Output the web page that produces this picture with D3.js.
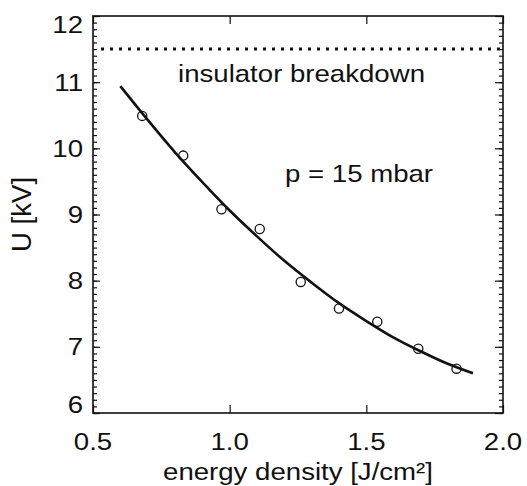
<!DOCTYPE html>
<html>
<head>
<meta charset="utf-8">
<script src="https://cdn.jsdelivr.net/npm/d3@7"></script>
<style>
  html, body { margin: 0; padding: 0; background: #fff; }
  svg { display: block; font-family: "Liberation Sans", Arial, sans-serif; }
</style>
</head>
<body>
<svg id="chart" width="527" height="486"></svg>
<script>
// 量測點 (energy density, U)
const pointX = [0.68, 0.83, 0.97, 1.11, 1.26, 1.40, 1.54, 1.69, 1.83];
const pointU = [10.49, 9.89, 9.08, 8.78, 7.98, 7.58, 7.38, 6.97, 6.67];

// 擬合曲線
const fitX = [0.60, 0.70, 0.80, 0.90, 1.00, 1.10, 1.20, 1.30, 1.40, 1.50, 1.60, 1.70, 1.80, 1.89];
const fitU = [10.94, 10.43, 9.94, 9.49, 9.06, 8.67, 8.30, 7.97, 7.66, 7.39, 7.14, 6.93, 6.74, 6.60];

// 絕緣體崩潰電壓
const breakdownU = 11.5;

// 軸刻度
const xTicks = [0.5, 1.0, 1.5, 2.0];
const xTickLabels = ["0.5", "1.0", "1.5", "2.0"];
const yTicks = [6, 7, 8, 9, 10, 11, 12];
const yTickLabels = ["6", "7", "8", "9", "10", "11", "12"];

const xDomain = [0.5, 2.0];
const yDomain = [6, 12];

// 版面
const W = 527, H = 486;
const margin = { left: 93, top: 16, right: 24, bottom: 73 };
const FONT = 24;
const STRETCH = 1.15; // 原圖字體較寬
const CAP = 0.716 * FONT;

const svg = d3.select('#chart');

const x = d3.scaleLinear().domain(xDomain).range([margin.left, W - margin.right]);
const y = d3.scaleLinear().domain(yDomain).range([H - margin.bottom, margin.top]);

const plotLeft = x.range()[0], plotRight = x.range()[1];
const plotTop = y.range()[1], plotBottom = y.range()[0];

//文字 (水平拉寬)
function addText(px, py, str, anchor, size) {
  return svg.append('text')
    .attr('transform', `translate(${px},${py}) scale(${STRETCH},1)`)
    .attr('text-anchor', anchor)
    .style('font-size', (size || FONT) + 'px')
    .style('fill', '#111')
    .text(str);
}

// 次刻度
const yMinor = d3.range(yDomain[0], yDomain[1] + 0.001, 0.1);

//刻度 (朝內)
svg.append('g')
  .attr('transform', `translate(${plotLeft},0)`)
  .call(d3.axisLeft(y).tickValues(yMinor).tickSize(-4).tickFormat(''));
svg.append('g')
  .attr('transform', `translate(${plotLeft},0)`)
  .call(d3.axisLeft(y).tickValues(yTicks).tickSize(-7).tickFormat(''));
svg.append('g')
  .attr('transform', `translate(${plotRight},0)`)
  .call(d3.axisRight(y).tickValues(yMinor).tickSize(-4).tickFormat(''));
svg.append('g')
  .attr('transform', `translate(${plotRight},0)`)
  .call(d3.axisRight(y).tickValues(yTicks).tickSize(-8).tickFormat(''));
svg.append('g')
  .attr('transform', `translate(0,${plotBottom})`)
  .call(d3.axisBottom(x).tickValues(xTicks).tickSize(-8).tickFormat(''));
svg.append('g')
  .attr('transform', `translate(0,${plotTop})`)
  .call(d3.axisTop(x).tickValues(xTicks).tickSize(-8).tickFormat(''));

svg.selectAll('.domain').remove();
svg.selectAll('.tick line').style('stroke', '#111').style('stroke-width', 1.2);

//外框
svg.append('rect')
  .attr('x', plotLeft).attr('y', plotTop)
  .attr('width', plotRight - plotLeft).attr('height', plotBottom - plotTop)
  .style('fill', 'none').style('stroke', '#111').style('stroke-width', 1.6);

//刻度文字
yTicks.forEach((v, i) => {
  // 兩端的文字不超出框線
  const cy = Math.max(plotTop + CAP / 2, Math.min(plotBottom - CAP / 2, y(v)));
  addText(plotLeft - 10, cy + CAP / 2, yTickLabels[i], 'end');
});
xTicks.forEach((v, i) => {
  addText(x(v), plotBottom + 37, xTickLabels[i], 'middle');
});

//軸標題
addText((plotLeft + plotRight) / 2, H - 6, 'energy density [J/cm²]', 'middle');
svg.append('text')
  .attr('transform', `translate(31,${(plotTop + plotBottom) / 2}) rotate(-90)`)
  .attr('text-anchor', 'middle')
  .style('font-size', (FONT * STRETCH) + 'px')
  .style('fill', '#111')
  .text('U [kV]');

//崩潰電壓虛線
svg.append('line')
  .attr('x1', plotLeft + 8).attr('x2', plotRight)
  .attr('y1', y(breakdownU)).attr('y2', y(breakdownU))
  .style('stroke', '#111')
  .style('stroke-width', 3)
  .style('stroke-dasharray', '3,6');

addText(301.5, 82, 'insulator breakdown', 'middle');
addText(359, 182, 'p = 15 mbar', 'middle');

//擬合曲線
const fitData = fitX.map((d, i) => [d, fitU[i]]);
svg.append('path')
  .datum(fitData)
  .attr('d', d3.line().x(d => x(d[0])).y(d => y(d[1])).curve(d3.curveMonotoneX))
  .style('fill', 'none')
  .style('stroke', '#111')
  .style('stroke-width', 2.6);

//量測點
svg.selectAll('circle.pt')
  .data(pointX.map((d, i) => [d, pointU[i]]))
  .enter()
  .append('circle')
  .attr('class', 'pt')
  .attr('cx', d => x(d[0]))
  .attr('cy', d => y(d[1]))
  .attr('r', 4.6)
  .style('fill', 'none')
  .style('stroke', '#111')
  .style('stroke-width', 1.3);
</script>
</body>
</html>
